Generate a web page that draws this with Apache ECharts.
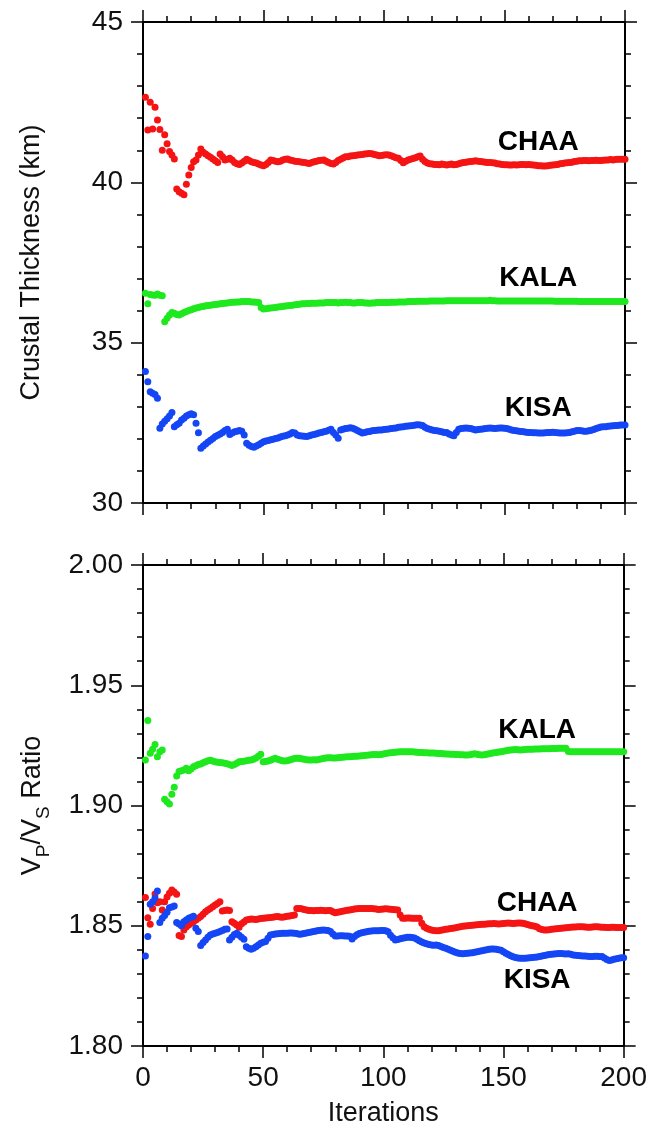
<!DOCTYPE html>
<html>
<head>
<meta charset="utf-8">
<script src="https://cdn.jsdelivr.net/npm/echarts@6/dist/echarts.min.js"></script>
<style>
  html, body { margin: 0; padding: 0; background: #fff; }
  #chart { width: 650px; height: 1130px; }
</style>
</head>
<body>
<div id="chart"></div>
<script>
// crustal thickness (km), iterations 1..200
var chaaH = [
  42.65, 41.63, 42.50, 41.66, 42.34, 41.94, 41.65, 41.00, 41.48, 41.20,
  40.96, 40.85, 40.73, 39.79, 39.71, 39.66, 39.61, 39.94, 40.23, 40.46,
  40.64, 40.70, 40.85, 41.04, 40.94, 40.88, 40.83, 40.78, 40.73, 40.67,
  40.62, 40.88, 40.80, 40.70, 40.72, 40.75, 40.70, 40.62, 40.58, 40.56,
  40.60, 40.66, 40.72, 40.68, 40.64, 40.62, 40.60, 40.57, 40.54, 40.52,
  40.56, 40.62, 40.70, 40.68, 40.66, 40.64, 40.66, 40.70, 40.72, 40.73,
  40.70, 40.68, 40.66, 40.65, 40.64, 40.63, 40.62, 40.60, 40.59, 40.62,
  40.64, 40.66, 40.68, 40.69, 40.70, 40.66, 40.62, 40.59, 40.57, 40.62,
  40.68, 40.72, 40.76, 40.80, 40.80, 40.82, 40.83, 40.84, 40.85, 40.86,
  40.87, 40.88, 40.89, 40.90, 40.89, 40.87, 40.85, 40.83, 40.84, 40.85,
  40.86, 40.85, 40.83, 40.80, 40.77, 40.75, 40.68, 40.61, 40.66, 40.70,
  40.72, 40.74, 40.77, 40.80, 40.82, 40.72, 40.65, 40.60, 40.58, 40.57,
  40.56, 40.56, 40.55, 40.57, 40.56, 40.54, 40.56, 40.57, 40.55, 40.56,
  40.58, 40.60, 40.62, 40.63, 40.64, 40.65, 40.66, 40.67, 40.66, 40.65,
  40.64, 40.63, 40.62, 40.62, 40.61, 40.60, 40.58, 40.57, 40.56, 40.55,
  40.55, 40.54, 40.54, 40.55, 40.54, 40.55, 40.56, 40.56, 40.55, 40.56,
  40.55, 40.54, 40.53, 40.52, 40.52, 40.51, 40.51, 40.52, 40.53, 40.54,
  40.55, 40.56, 40.58, 40.59, 40.60, 40.61, 40.62, 40.63, 40.65, 40.66,
  40.67, 40.67, 40.68, 40.68, 40.67, 40.68, 40.68, 40.69, 40.68, 40.68,
  40.69, 40.70, 40.70, 40.71, 40.70, 40.71, 40.72, 40.72, 40.72, 40.72
];
var kalaH = [
  36.54, 36.21, 36.50, 36.49, 36.48, 36.52, 36.48, 36.46, 35.65, 35.76,
  35.86, 35.94, 35.92, 35.88, 35.86, 35.90, 35.94, 35.97, 36.00, 36.03,
  36.06, 36.08, 36.10, 36.12, 36.13, 36.15, 36.16, 36.17, 36.18, 36.19,
  36.20, 36.21, 36.22, 36.23, 36.24, 36.25, 36.26, 36.26, 36.27, 36.27,
  36.28, 36.28, 36.28, 36.28, 36.27, 36.27, 36.26, 36.25, 36.10, 36.05,
  36.06, 36.07, 36.08, 36.09, 36.10, 36.11, 36.12, 36.13, 36.14, 36.15,
  36.16, 36.17, 36.18, 36.19, 36.20, 36.21, 36.21, 36.22, 36.22, 36.23,
  36.23, 36.23, 36.24, 36.24, 36.24, 36.25, 36.25, 36.25, 36.25, 36.25,
  36.24, 36.25, 36.25, 36.26, 36.25, 36.25, 36.24, 36.24, 36.25, 36.25,
  36.25, 36.24, 36.24, 36.23, 36.24, 36.24, 36.25, 36.25, 36.25, 36.25,
  36.25, 36.25, 36.26, 36.26, 36.26, 36.27, 36.27, 36.27, 36.27, 36.28,
  36.28, 36.28, 36.28, 36.29, 36.29, 36.29, 36.29, 36.29, 36.30, 36.30,
  36.30, 36.30, 36.30, 36.30, 36.30, 36.31, 36.31, 36.31, 36.31, 36.31,
  36.31, 36.31, 36.31, 36.31, 36.31, 36.31, 36.31, 36.31, 36.31, 36.31,
  36.31, 36.31, 36.31, 36.32, 36.31, 36.31, 36.30, 36.30, 36.30, 36.30,
  36.30, 36.30, 36.30, 36.30, 36.30, 36.30, 36.30, 36.30, 36.30, 36.30,
  36.30, 36.30, 36.30, 36.30, 36.30, 36.30, 36.30, 36.30, 36.30, 36.30,
  36.29, 36.29, 36.29, 36.29, 36.29, 36.29, 36.29, 36.29, 36.29, 36.29,
  36.28, 36.28, 36.28, 36.28, 36.28, 36.28, 36.28, 36.28, 36.28, 36.28,
  36.28, 36.28, 36.28, 36.28, 36.28, 36.28, 36.28, 36.28, 36.28, 36.28
];
var kisaH = [
  34.10, 33.78, 33.47, 33.42, 33.38, 33.27, 32.33, 32.46, 32.55, 32.63,
  32.71, 32.82, 32.38, 32.44, 32.49, 32.59, 32.64, 32.71, 32.75, 32.78,
  32.75, 32.49, 32.19, 31.71, 31.78, 31.84, 31.90, 31.96, 32.01, 32.07,
  32.11, 32.15, 32.20, 32.26, 32.30, 32.14, 32.18, 32.22, 32.24, 32.26,
  32.24, 32.12, 31.86, 31.80, 31.76, 31.74, 31.78, 31.82, 31.86, 31.91,
  31.93, 31.95, 31.97, 31.99, 32.01, 32.03, 32.06, 32.08, 32.10, 32.12,
  32.15, 32.20, 32.18, 32.12, 32.10, 32.09, 32.08, 32.07, 32.10, 32.12,
  32.14, 32.16, 32.18, 32.20, 32.22, 32.24, 32.27, 32.30, 32.20, 32.12,
  32.02, 32.28, 32.30, 32.32, 32.33, 32.35, 32.33, 32.30, 32.26, 32.22,
  32.18, 32.20, 32.22, 32.23, 32.25, 32.26, 32.27, 32.28, 32.28, 32.29,
  32.30, 32.31, 32.32, 32.33, 32.34, 32.36, 32.37, 32.38, 32.39, 32.40,
  32.41, 32.42, 32.43, 32.44, 32.43, 32.42, 32.36, 32.32, 32.30, 32.28,
  32.26, 32.25, 32.24, 32.22, 32.20, 32.20, 32.15, 32.12, 32.10, 32.20,
  32.30, 32.32, 32.33, 32.34, 32.33, 32.32, 32.30, 32.28, 32.29, 32.30,
  32.31, 32.32, 32.33, 32.34, 32.33, 32.32, 32.33, 32.34, 32.34, 32.33,
  32.32, 32.30, 32.28, 32.26, 32.25, 32.24, 32.23, 32.22, 32.21, 32.20,
  32.20, 32.19, 32.19, 32.18, 32.18, 32.18, 32.19, 32.20, 32.20, 32.21,
  32.20, 32.19, 32.18, 32.18, 32.18, 32.19, 32.20, 32.22, 32.24, 32.26,
  32.26, 32.25, 32.24, 32.24, 32.25, 32.27, 32.29, 32.32, 32.35, 32.37,
  32.38, 32.38, 32.39, 32.40, 32.41, 32.42, 32.42, 32.43, 32.43, 32.43
];

// Vp/Vs ratio, iterations 1..200
var kalaR = [
  1.9189, 1.9353, 1.9217, 1.9234, 1.9254, 1.9203, 1.9224, 1.9231, 1.9026, 1.9016,
  1.9006, 1.9047, 1.9076, 1.9123, 1.9141, 1.9145, 1.9148, 1.9155, 1.9145, 1.9152,
  1.9161, 1.9165, 1.9170, 1.9173, 1.9178, 1.9182, 1.9186, 1.9188, 1.9185, 1.9182,
  1.9180, 1.9179, 1.9178, 1.9176, 1.9174, 1.9170, 1.9166, 1.9170, 1.9176, 1.9182,
  1.9183, 1.9184, 1.9186, 1.9188, 1.9189, 1.9192, 1.9198, 1.9205, 1.9213, 1.9182,
  1.9183, 1.9185, 1.9188, 1.9192, 1.9196, 1.9192, 1.9189, 1.9186, 1.9185, 1.9186,
  1.9189, 1.9192, 1.9195, 1.9196, 1.9196, 1.9194, 1.9192, 1.9190, 1.9189, 1.9189,
  1.9190, 1.9189, 1.9191, 1.9193, 1.9195, 1.9197, 1.9199, 1.9199, 1.9198, 1.9198,
  1.9199, 1.9200, 1.9201, 1.9202, 1.9203, 1.9203, 1.9204, 1.9205, 1.9205, 1.9206,
  1.9207, 1.9208, 1.9209, 1.9210, 1.9211, 1.9212, 1.9212, 1.9211, 1.9212, 1.9214,
  1.9216, 1.9218, 1.9219, 1.9220, 1.9221, 1.9222, 1.9223, 1.9224, 1.9224, 1.9224,
  1.9224, 1.9223, 1.9222, 1.9221, 1.9220, 1.9220, 1.9219, 1.9219, 1.9218, 1.9218,
  1.9218, 1.9217, 1.9216, 1.9216, 1.9215, 1.9214, 1.9214, 1.9213, 1.9213, 1.9212,
  1.9212, 1.9211, 1.9211, 1.9210, 1.9210, 1.9211, 1.9213, 1.9215, 1.9213, 1.9211,
  1.9210, 1.9211, 1.9213, 1.9215, 1.9217, 1.9219, 1.9220, 1.9222, 1.9224, 1.9226,
  1.9228, 1.9230, 1.9231, 1.9232, 1.9233, 1.9232, 1.9231, 1.9232, 1.9233, 1.9234,
  1.9234, 1.9234, 1.9235, 1.9235, 1.9235, 1.9236, 1.9236, 1.9236, 1.9236, 1.9237,
  1.9237, 1.9237, 1.9238, 1.9238, 1.9238, 1.9238, 1.9225, 1.9224, 1.9224, 1.9224,
  1.9224, 1.9224, 1.9223, 1.9223, 1.9223, 1.9223, 1.9224, 1.9224, 1.9224, 1.9224,
  1.9224, 1.9224, 1.9224, 1.9224, 1.9224, 1.9224, 1.9224, 1.9224, 1.9224, 1.9224
];
var chaaR = [
  1.8617, 1.8533, 1.8506, 1.8572, 1.8632, 1.8596, 1.8600, 1.8566, 1.8600, 1.8620,
  1.8635, 1.8649, 1.8640, 1.8631, 1.8459, 1.8455, 1.8482, 1.8495, 1.8503, 1.8510,
  1.8517, 1.8524, 1.8531, 1.8538, 1.8548, 1.8558, 1.8565, 1.8572, 1.8579, 1.8586,
  1.8593, 1.8600, 1.8561, 1.8563, 1.8566, 1.8563, 1.8517, 1.8510, 1.8503, 1.8494,
  1.8508, 1.8516, 1.8524, 1.8526, 1.8528, 1.8527, 1.8526, 1.8528, 1.8530, 1.8531,
  1.8532, 1.8533, 1.8534, 1.8535, 1.8537, 1.8538, 1.8536, 1.8535, 1.8537, 1.8539,
  1.8541, 1.8543, 1.8545, 1.8572, 1.8572, 1.8571, 1.8568, 1.8565, 1.8563, 1.8563,
  1.8562, 1.8563, 1.8563, 1.8564, 1.8563, 1.8562, 1.8563, 1.8563, 1.8558, 1.8554,
  1.8556, 1.8558, 1.8560, 1.8562, 1.8564, 1.8566, 1.8568, 1.8570, 1.8571, 1.8572,
  1.8572, 1.8572, 1.8572, 1.8572, 1.8572, 1.8571, 1.8570, 1.8568, 1.8569, 1.8570,
  1.8571, 1.8570, 1.8569, 1.8568, 1.8567, 1.8566, 1.8545, 1.8531, 1.8531, 1.8532,
  1.8532, 1.8531, 1.8531, 1.8531, 1.8531, 1.8510, 1.8496, 1.8490, 1.8485, 1.8482,
  1.8480, 1.8479, 1.8479, 1.8481, 1.8483, 1.8485, 1.8487, 1.8489, 1.8490, 1.8492,
  1.8494, 1.8496, 1.8498, 1.8499, 1.8500, 1.8501, 1.8502, 1.8503, 1.8504, 1.8505,
  1.8506, 1.8506, 1.8507, 1.8508, 1.8508, 1.8509, 1.8508, 1.8507, 1.8508, 1.8509,
  1.8510, 1.8511, 1.8510, 1.8509, 1.8510, 1.8511, 1.8511, 1.8510, 1.8508, 1.8505,
  1.8502, 1.8500, 1.8498, 1.8495, 1.8488, 1.8484, 1.8482, 1.8482, 1.8483, 1.8485,
  1.8487, 1.8488, 1.8489, 1.8490, 1.8491, 1.8492, 1.8493, 1.8494, 1.8495, 1.8495,
  1.8496, 1.8496, 1.8496, 1.8495, 1.8494, 1.8494, 1.8495, 1.8496, 1.8496, 1.8495,
  1.8494, 1.8494, 1.8493, 1.8493, 1.8494, 1.8494, 1.8493, 1.8493, 1.8493, 1.8493
];
var kisaR = [
  1.8374, 1.8455, 1.8589, 1.8600, 1.8615, 1.8644, 1.8514, 1.8531, 1.8543, 1.8556,
  1.8575, 1.8578, 1.8582, 1.8514, 1.8507, 1.8500, 1.8517, 1.8524, 1.8531, 1.8535,
  1.8540, 1.8490, 1.8476, 1.8418, 1.8430, 1.8441, 1.8452, 1.8462, 1.8466, 1.8469,
  1.8472, 1.8476, 1.8480, 1.8485, 1.8487, 1.8441, 1.8452, 1.8464, 1.8469, 1.8460,
  1.8452, 1.8444, 1.8413, 1.8406, 1.8402, 1.8406, 1.8413, 1.8420, 1.8427, 1.8431,
  1.8434, 1.8448, 1.8462, 1.8464, 1.8466, 1.8467, 1.8468, 1.8469, 1.8469, 1.8469,
  1.8470, 1.8470, 1.8469, 1.8468, 1.8465, 1.8466, 1.8468, 1.8470, 1.8472, 1.8474,
  1.8476, 1.8478, 1.8480, 1.8481, 1.8482, 1.8481, 1.8480, 1.8476, 1.8466, 1.8457,
  1.8457, 1.8458, 1.8458, 1.8457, 1.8457, 1.8456, 1.8445, 1.8455, 1.8463, 1.8468,
  1.8471, 1.8473, 1.8475, 1.8477, 1.8478, 1.8479, 1.8479, 1.8479, 1.8480, 1.8480,
  1.8479, 1.8475, 1.8460, 1.8450, 1.8441, 1.8443, 1.8446, 1.8448, 1.8450, 1.8452,
  1.8452, 1.8451, 1.8449, 1.8444, 1.8438, 1.8432, 1.8428, 1.8425, 1.8422, 1.8420,
  1.8419, 1.8420, 1.8418, 1.8414, 1.8410, 1.8406, 1.8402, 1.8398, 1.8394, 1.8390,
  1.8387, 1.8385, 1.8384, 1.8385, 1.8386, 1.8387, 1.8388, 1.8390, 1.8392, 1.8394,
  1.8396, 1.8398, 1.8400, 1.8402, 1.8403, 1.8403, 1.8402, 1.8400, 1.8398, 1.8392,
  1.8386, 1.8380, 1.8375, 1.8371, 1.8368, 1.8366, 1.8365, 1.8365, 1.8365, 1.8366,
  1.8367, 1.8368, 1.8369, 1.8370, 1.8372, 1.8374, 1.8376, 1.8378, 1.8380, 1.8382,
  1.8383, 1.8384, 1.8385, 1.8385, 1.8384, 1.8383, 1.8384, 1.8381, 1.8378, 1.8377,
  1.8376, 1.8375, 1.8374, 1.8374, 1.8373, 1.8372, 1.8372, 1.8373, 1.8373, 1.8372,
  1.8372, 1.8366, 1.8360, 1.8356, 1.8358, 1.8361, 1.8363, 1.8365, 1.8367, 1.8367
];

// station label anchors [name, iteration, value]
var labelsH = [['CHAA', 164, 41.26], ['KALA', 164, 37.02], ['KISA', 164, 32.96]];
var labelsR = [['KALA', 164, 1.9314], ['CHAA', 164, 1.8593], ['KISA', 164, 1.8274]];

var RED = '#f51414', GREEN = '#1ee81e', BLUE = '#1446f5';
var FONT = 'Liberation Sans, Arial, Helvetica, sans-serif';

function pts(arr) {
  return arr.map(function (v, i) { return [i + 1, v]; });
}

function xAx(grid, pos, showLabel) {
  return {
    type: 'value', gridIndex: grid, position: pos,
    min: 0, max: 200, interval: 50,
    axisLine: { show: true, onZero: false, lineStyle: { color: '#000', width: 2 } },
    axisTick: { show: true, length: 12, lineStyle: { color: '#000', width: 1.5 } },
    minorTick: { show: true, splitNumber: 5, length: 6, lineStyle: { color: '#000', width: 1.5 } },
    splitLine: { show: false },
    axisLabel: { show: showLabel, margin: 18, fontSize: 28, color: '#111', fontFamily: FONT }
  };
}

function yAx(grid, pos, min, max, step, showLabel, digits) {
  return {
    type: 'value', gridIndex: grid, position: pos,
    min: min, max: max, interval: step,
    axisLine: { show: true, onZero: false, lineStyle: { color: '#000', width: 2 } },
    axisTick: { show: true, length: 12, lineStyle: { color: '#000', width: 1.5 } },
    minorTick: { show: true, splitNumber: 5, length: 6, lineStyle: { color: '#000', width: 1.5 } },
    splitLine: { show: false },
    axisLabel: {
      show: showLabel, margin: 20, fontSize: 28, color: '#111', fontFamily: FONT,
      formatter: function (v) { return v.toFixed(digits); }
    }
  };
}

function dots(name, arr, color, xi, yi) {
  return {
    name: name, type: 'scatter', xAxisIndex: xi, yAxisIndex: yi,
    symbol: 'circle', symbolSize: 7, data: pts(arr),
    itemStyle: { color: color, opacity: 1 },
    silent: true
  };
}

function labelSeries(list, xi, yi) {
  return {
    type: 'scatter', xAxisIndex: xi, yAxisIndex: yi, symbolSize: 0, silent: true,
    itemStyle: { opacity: 1 },
    data: list.map(function (l) { return { value: [l[1], l[2]], name: l[0] }; }),
    label: {
      show: true, position: 'inside', formatter: '{b}', opacity: 1,
      fontSize: 28, fontWeight: 'bold', color: '#000', fontFamily: FONT
    }
  };
}

var yTop = yAx(0, 'left', 30, 45, 5, true, 0);
yTop.name = 'Crustal Thickness (km)';
yTop.nameLocation = 'middle';
yTop.nameGap = 98;
yTop.nameTextStyle = { fontSize: 27, color: '#111', fontFamily: FONT };

var yBot = yAx(1, 'left', 1.8, 2.0, 0.05, true, 2);
yBot.name = '{m|V}{s|P}{m|/V}{s|S}{m| Ratio}';
yBot.nameLocation = 'middle';
yBot.nameGap = 90;
yBot.nameTextStyle = {
  fontFamily: FONT, color: '#111',
  rich: {
    m: { fontSize: 27, lineHeight: 30, verticalAlign: 'middle', fontFamily: FONT, color: '#111' },
    s: { fontSize: 19, lineHeight: 40, verticalAlign: 'bottom', fontFamily: FONT, color: '#111' }
  }
};

var xBot = xAx(1, 'bottom', true);
xBot.name = 'Iterations';
xBot.nameLocation = 'middle';
xBot.nameGap = 54;
xBot.nameTextStyle = { fontSize: 27, color: '#111', fontFamily: FONT };

var option = {
  animation: false,
  backgroundColor: '#fff',
  grid: [
    { left: 143, top: 22, width: 482, height: 481 },
    { left: 143, top: 565, width: 482, height: 481 }
  ],
  xAxis: [xAx(0, 'bottom', false), xAx(0, 'top', false), xBot, xAx(1, 'top', false)],
  yAxis: [yTop, yAx(0, 'right', 30, 45, 5, false, 0), yBot, yAx(1, 'right', 1.8, 2.0, 0.05, false, 2)],
  series: [
    dots('CHAA', chaaH, RED, 0, 0),
    dots('KALA', kalaH, GREEN, 0, 0),
    dots('KISA', kisaH, BLUE, 0, 0),
    dots('KALA', kalaR, GREEN, 2, 2),
    dots('CHAA', chaaR, RED, 2, 2),
    dots('KISA', kisaR, BLUE, 2, 2),
    labelSeries(labelsH, 0, 0),
    labelSeries(labelsR, 2, 2)
  ]
};

var chart = echarts.init(document.getElementById('chart'), null, { renderer: 'canvas' });
chart.setOption(option);
</script>
</body>
</html>
